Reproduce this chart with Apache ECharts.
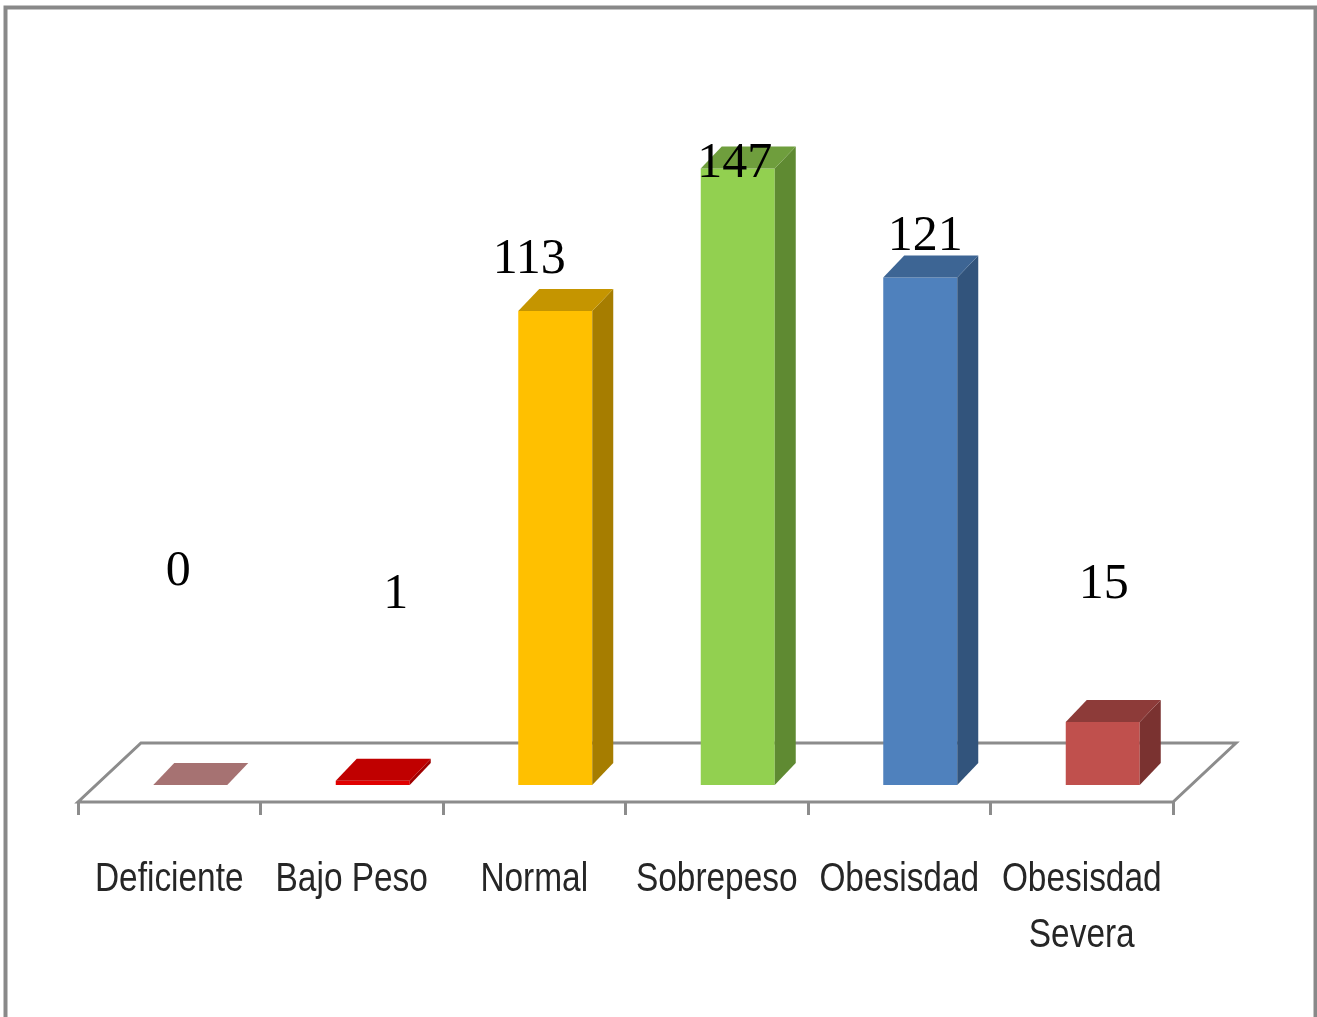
<!DOCTYPE html>
<html>
<head>
<meta charset="utf-8">
<title>Estado nutricional</title>
<script src="https://cdn.jsdelivr.net/npm/echarts@6/dist/echarts.min.js"></script>
<style>
  html, body { margin: 0; padding: 0; background: #ffffff; }
  #chart { width: 1317px; height: 1017px; }
</style>
</head>
<body>
<div id="chart"></div>
<script>
// Categories and counts
const categories = ['Deficiente', 'Bajo Peso', 'Normal', 'Sobrepeso', 'Obesisdad', 'Obesisdad\nSevera'];
const counts = [0, 1, 113, 147, 121, 15];

// Face colours of each 3D column: front, top, side
const frontColors = ['#a67272', '#e00000', '#ffc000', '#92d050', '#4f81bd', '#c0504d'];
const topColors   = ['#a67272', '#c00000', '#c59500', '#6f9e3d', '#3d6594', '#8d3b39'];
const sideColors  = ['#8a5d5d', '#a00000', '#a67d00', '#5f8a32', '#32547c', '#7a3230'];

// Where each value label sits, relative to the column's value point (px)
const labelShift = [[9, -230], [44, -203], [-5, -68], [18, -22], [26, -58], [22, -154]];

// 3D projection constants (px)
const BAR_W = 74;          // front face width
const BAR_DX = 21, BAR_DY = 22;      // column depth
const SEAT_DX = 21, SEAT_DY = 17;    // column base sits this far back on the floor
const FLOOR_DX = 63, FLOOR_DY = 59;  // floor depth

// Category label look: a condensed sans, drawn by squeezing a regular face
const CAT_FONT = '41px "Liberation Sans", Arial, sans-serif';
const CAT_SQUEEZE = 0.815;
const CAT_GAP = 50;

const chart = echarts.init(document.getElementById('chart'), null, { renderer: 'canvas' });

function renderFloor(params, api) {
  const origin = api.coord([0, 0]);
  const band = api.size([1, 0])[0];
  const xl = origin[0] - band / 2;
  const xr = xl + band * categories.length;
  const y = origin[1];
  return {
    type: 'polygon',
    shape: { points: [[xl, y], [xr, y], [xr + FLOOR_DX, y - FLOOR_DY], [xl + FLOOR_DX, y - FLOOR_DY]] },
    style: { fill: '#ffffff', stroke: '#8c8c8c', lineWidth: 3, lineJoin: 'miter' }
  };
}

function renderCategoryLabel(params, api) {
  const i = api.value(0);
  const p = api.coord([i, 0]);
  return {
    type: 'text',
    x: p[0],
    y: p[1] + CAT_GAP,
    scaleX: CAT_SQUEEZE,
    style: {
      x: 0, y: 0,
      text: categories[i],
      fill: '#262626',
      font: CAT_FONT,
      lineHeight: 56,
      align: 'center',
      verticalAlign: 'top'
    }
  };
}

function renderColumn(params, api) {
  const i = api.value(0);
  const v = api.value(1);
  const base = api.coord([i, 0]);
  const top = api.coord([i, v]);
  const cx = base[0] + SEAT_DX;
  const x0 = cx - BAR_W / 2;
  const x1 = cx + BAR_W / 2;
  const yb = base[1] - SEAT_DY;
  const yt = top[1] - SEAT_DY;
  const children = [];
  if (yb - yt > 0.5) {
    children.push({
      type: 'rect',
      shape: { x: x0, y: yt, width: BAR_W, height: yb - yt },
      style: { fill: frontColors[i] }
    });
    children.push({
      type: 'polygon',
      shape: { points: [[x1, yt], [x1 + BAR_DX, yt - BAR_DY], [x1 + BAR_DX, yb - BAR_DY], [x1, yb]] },
      style: { fill: sideColors[i] }
    });
  }
  children.push({
    type: 'polygon',
    shape: { points: [[x0, yt], [x1, yt], [x1 + BAR_DX, yt - BAR_DY], [x0 + BAR_DX, yt - BAR_DY]] },
    style: { fill: topColors[i] }
  });
  children.push({
    type: 'text',
    z2: 10,
    style: {
      x: top[0] + labelShift[i][0],
      y: top[1] + labelShift[i][1],
      text: String(v),
      fill: '#000000',
      font: '50px "Liberation Serif", "Times New Roman", serif',
      align: 'center',
      verticalAlign: 'middle'
    }
  });
  return { type: 'group', children: children };
}

chart.setOption({
  animation: false,
  backgroundColor: '#ffffff',
  graphic: [{
    type: 'rect',
    left: 3, top: 5,
    shape: { width: 1310, height: 1100 },
    style: { fill: 'none', stroke: '#898989', lineWidth: 4 },
    silent: true
  }],
  grid: { left: 78, right: 144, top: 47, bottom: 215 },
  xAxis: {
    type: 'category',
    data: categories,
    boundaryGap: true,
    axisLine: { show: false },
    axisTick: { show: true, length: 13, lineStyle: { color: '#8c8c8c', width: 3 } },
    axisLabel: { show: false }
  },
  yAxis: {
    type: 'value',
    min: 0,
    max: 180,
    show: false,
    splitLine: { show: false }
  },
  series: [
    {
      type: 'custom',
      name: 'floor',
      z: 1,
      silent: true,
      renderItem: renderFloor,
      data: [[0, 0]]
    },
    {
      type: 'custom',
      name: 'categorías',
      z: 1,
      silent: true,
      renderItem: renderCategoryLabel,
      data: categories.map((c, i) => [i])
    },
    {
      type: 'custom',
      name: 'Estado nutricional',
      z: 2,
      renderItem: renderColumn,
      encode: { x: 0, y: 1 },
      data: counts.map((c, i) => [i, c])
    }
  ]
});
</script>
</body>
</html>
